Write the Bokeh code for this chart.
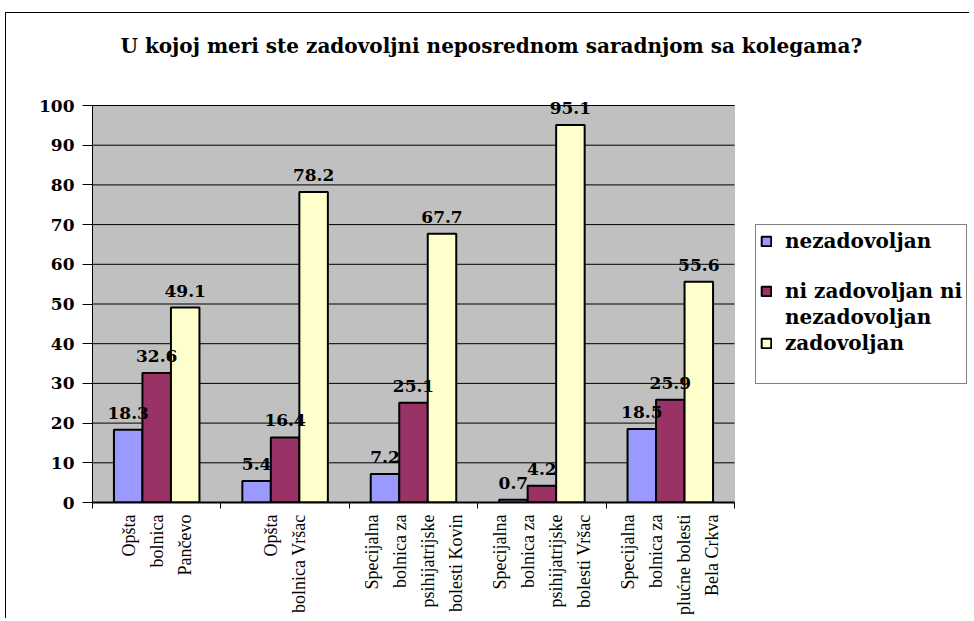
import math
from bokeh.plotting import figure
from bokeh.models import (ColumnDataSource, Legend, LegendItem, Range1d,
                          FixedTicker, LabelSet, BoxAnnotation, Label)
from bokeh.transform import dodge
from bokeh.core.properties import value
from bokeh.embed import file_html
from bokeh.resources import INLINE

# ---- data ----
categories = ["Opšta\nbolnica\nPančevo",
              "Opšta\nbolnica Vršac",
              "Specijalna\nbolnica za\npsihijatrijske\nbolesti Kovin",
              "Specijalna\nbolnica za\npsihijatrijske\nbolesti Vršac",
              "Specijalna\nbolnica za\nplućne bolesti\nBela Crkva"]
nezadovoljan = [18.3, 5.4, 7.2, 0.7, 18.5]
ni_zadovoljan_ni_nezadovoljan = [32.6, 16.4, 25.1, 4.2, 25.9]
zadovoljan = [49.1, 78.2, 67.7, 95.1, 55.6]
series_names = ["nezadovoljan", "ni zadovoljan ni", "zadovoljan"]
legend_second_line = "nezadovoljan"
y_ticks = [0, 10, 20, 30, 40, 50, 60, 70, 80, 90, 100]
y_max = 100
title_text = "U kojoj meri ste zadovoljni neposrednom saradnjom sa kolegama?"

colors = ["#9999FF", "#993366", "#FFFFCC"]
series = [nezadovoljan, ni_zadovoljan_ni_nezadovoljan, zadovoljan]
n = len(categories)
centers = [i + 0.5 for i in range(n)]
boundaries = [float(i) for i in range(n + 1)]

src = ColumnDataSource(dict(
    xc=centers,
    s0=series[0], s1=series[1], s2=series[2],
    t0=[str(v) for v in series[0]],
    t1=[str(v) for v in series[1]],
    t2=[str(v) for v in series[2]],
))

W, H = 964, 606
left_b, top_b, bottom_b = 86, 12, 117
frame_w = W - left_b
frame_h = H - top_b - bottom_b
plot_w, plot_h = 642, 397  # pixel size of the grey plot area

p = figure(x_range=Range1d(0, n * frame_w / plot_w),
           y_range=Range1d(0, y_max * frame_h / plot_h),
           width=W, height=H, output_backend="svg", toolbar_location=None,
           min_border_left=left_b, min_border_right=0, min_border_top=top_b,
           min_border_bottom=bottom_b)
p.styles = {"border-top": "1px solid black", "border-left": "1px solid black",
            "margin-top": "12px", "margin-left": "5px"}

p.background_fill_color = "white"
p.border_fill_color = "white"
p.outline_line_color = None

title = Label(x=28, y=frame_h - 20, x_units="screen", y_units="screen", text=title_text,
              text_align="left", text_baseline="middle",
              text_font="DejaVu Serif", text_font_size="20px", text_font_style="bold",
              text_color="black")
p.add_layout(title)

plot_area = BoxAnnotation(left=0, right=n, bottom=0, top=y_max, fill_color="#C0C0C0",
                          fill_alpha=1, line_color="#808080", line_width=1, level="image")
p.add_layout(plot_area)

p.xgrid.visible = False
p.ygrid.visible = False
p.segment(x0=0, x1=n, y0=y_ticks, y1=y_ticks, line_color="black", line_width=1,
          level="underlay")

p.yaxis.ticker = FixedTicker(ticks=y_ticks)
p.yaxis.bounds = (0, y_max)
p.yaxis.major_tick_out = 10
p.yaxis.major_tick_in = 0
p.yaxis.minor_tick_line_color = None
p.yaxis.axis_line_color = "black"
p.yaxis.major_tick_line_color = "black"
p.yaxis.major_label_standoff = 8
p.yaxis.major_label_text_font = "DejaVu Serif"
p.yaxis.major_label_text_font_style = "bold"
p.yaxis.major_label_text_font_size = "17px"
p.yaxis.major_label_text_color = "black"

p.xaxis.ticker = FixedTicker(ticks=centers, minor_ticks=boundaries)
p.xaxis.major_label_overrides = {c: lab for c, lab in zip(centers, categories)}
p.xaxis.bounds = (0, n)
p.xaxis.axis_line_color = "black"
p.xaxis.axis_line_width = 2
p.xaxis.major_tick_line_color = None
p.xaxis.minor_tick_line_color = "black"
p.xaxis.minor_tick_out = 6
p.xaxis.minor_tick_in = 0
p.xaxis.major_label_orientation = math.pi / 2
p.xaxis.major_label_standoff = 6
p.xaxis.major_label_text_font = "Liberation Serif"
p.xaxis.major_label_text_font_size = "18px"
p.xaxis.major_label_text_line_height = 1.4
p.xaxis.major_label_text_align = "center"
p.xaxis.major_label_text_color = "black"

bw = 0.222
offsets = [-bw, 0.0, bw]
renderers = []
for i in range(3):
    r = p.vbar(x=dodge("xc", offsets[i]), top=f"s{i}", width=bw,
               source=src, fill_color=colors[i], line_color="black", line_width=2)
    renderers.append(r)
    lab = LabelSet(x=dodge("xc", offsets[i]), y=f"s{i}", text=f"t{i}",
                   source=src, text_align="center", text_baseline="bottom", y_offset=11,
                   text_font=value("DejaVu Serif"), text_font_style="bold",
                   text_font_size="17px", text_color="black")
    p.add_layout(lab)

blank = p.vbar(x=[], top=[], width=0.1, fill_alpha=0, line_alpha=0)

legend = Legend(items=[
    LegendItem(label=series_names[0], renderers=[renderers[0]]),
    LegendItem(label=" ", renderers=[blank]),
    LegendItem(label=series_names[1], renderers=[renderers[1]]),
    LegendItem(label=legend_second_line, renderers=[blank]),
    LegendItem(label=series_names[2], renderers=[renderers[2]]),
    LegendItem(label=" ", renderers=[blank]),
], location=(663, 118), margin=0, padding=4, spacing=2,
   glyph_width=12, glyph_height=12, label_height=22, label_standoff=13,
   border_line_color="black", border_line_width=1, background_fill_color="white",
   label_text_font="DejaVu Serif", label_text_font_style="bold",
   label_text_font_size="20px", label_text_color="black")
p.add_layout(legend)

open("out.html", "w").write(file_html(p, INLINE))
